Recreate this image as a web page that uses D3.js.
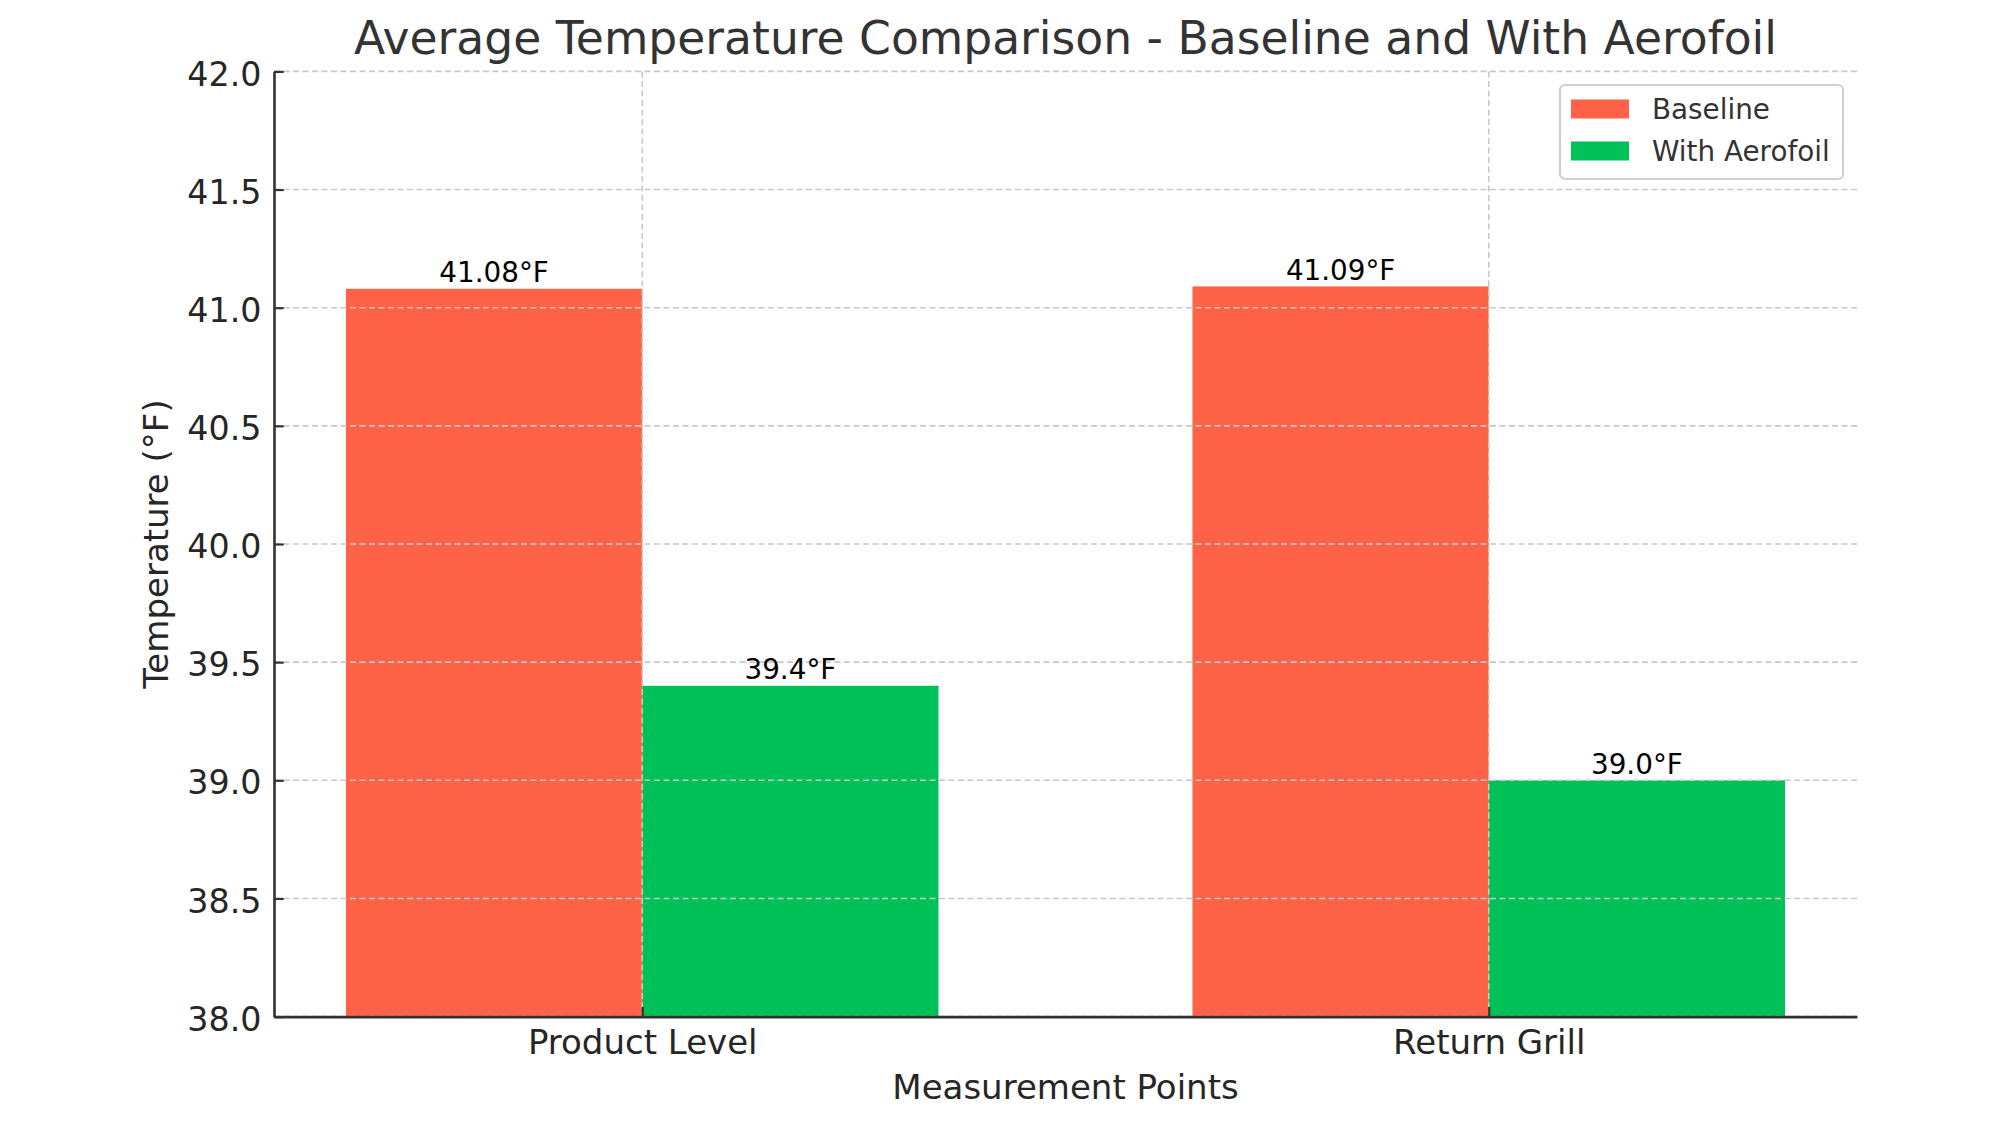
<!DOCTYPE html>
<html>
<head>
<meta charset="utf-8">
<script src="https://cdn.jsdelivr.net/npm/d3@7"></script>
<style>
  html, body { margin: 0; padding: 0; background: #fff; }
  svg { display: block; font-family: "DejaVu Sans", sans-serif; }
  .grid line { stroke: #c8c8c8; stroke-width: 1.6; stroke-dasharray: 6 3.5; }
  text.tick-label { fill: #262626; font-size: 33.3px; font-family: "DejaVu Sans", sans-serif; }
</style>
</head>
<body>
<div id="chart"></div>
<script>
const categories = ["Product Level", "Return Grill"];
const seriesNames = ["Baseline", "With Aerofoil"];
const baselineValues = [41.08, 41.09];
const aerofoilValues = [39.4, 39.0];
const valueLabels = [["41.08°F", "41.09°F"], ["39.4°F", "39.0°F"]];
const yTicks = [38.0, 38.5, 39.0, 39.5, 40.0, 40.5, 41.0, 41.5, 42.0];
const seriesColors = ["#ff6347", "#00c158"];

const width = 2000;
const height = 1125;
const margin = { top: 71.4, right: 143, bottom: 108.4, left: 274 };
const barWidth = 0.35;

const svg = d3.select("#chart").append("svg")
    .attr("width", width)
    .attr("height", height);

const x = d3.scaleLinear()
    .domain([-0.435, categories.length - 1 + 0.435])
    .range([margin.left, width - margin.right]);

const y = d3.scaleLinear()
    .domain([38, 42])
    .range([height - margin.bottom, margin.top]);

const series = [baselineValues, aerofoilValues];

// bars
series.forEach((vals, s) => {
    const offset = s === 0 ? -barWidth : 0;
    svg.append("g").selectAll("rect")
        .data(vals)
        .enter()
        .append("rect")
        .attr("x", (d, i) => x(i + offset))
        .attr("width", x(barWidth) - x(0))
        .attr("y", d => y(d))
        .attr("height", d => y(38) - y(d))
        .attr("fill", seriesColors[s]);
});

// grid on top of bars
const grid = svg.append("g").attr("class", "grid");
grid.selectAll("line.h")
    .data(yTicks)
    .enter()
    .append("line")
    .attr("x1", margin.left)
    .attr("x2", width - margin.right)
    .attr("y1", d => y(d))
    .attr("y2", d => y(d));
grid.selectAll("line.v")
    .data(categories.map((c, i) => i))
    .enter()
    .append("line")
    .attr("x1", d => x(d))
    .attr("x2", d => x(d))
    .attr("y1", margin.top)
    .attr("y2", height - margin.bottom);

// value labels
series.forEach((vals, s) => {
    const offset = s === 0 ? -barWidth / 2 : barWidth / 2;
    svg.append("g").selectAll("text")
        .data(vals)
        .enter()
        .append("text")
        .attr("x", (d, i) => x(i + offset))
        .attr("y", d => y(d) - 6.6)
        .attr("text-anchor", "middle")
        .attr("font-size", 27.8)
        .attr("fill", "#000")
        .text((d, i) => valueLabels[s][i]);
});

// axes
const yAxis = d3.axisLeft(y)
    .tickValues(yTicks)
    .tickFormat(d3.format(".1f"))
    .tickSizeInner(-9.7)
    .tickSizeOuter(0)
    .tickPadding(12.5);

const yg = svg.append("g")
    .attr("transform", `translate(${margin.left},0)`)
    .call(yAxis);

const xAxis = d3.axisBottom(x)
    .tickValues(categories.map((c, i) => i))
    .tickFormat(i => categories[i])
    .tickSizeInner(-9.7)
    .tickSizeOuter(0)
    .tickPadding(13);

const xg = svg.append("g")
    .attr("transform", `translate(0,${height - margin.bottom})`)
    .call(xAxis);

[yg, xg].forEach(g => {
    g.attr("font-family", null).attr("font-size", null);
    g.select(".domain").attr("stroke", "#333").attr("stroke-width", 2.6);
    g.selectAll(".tick line").attr("stroke", "#333").attr("stroke-width", 2.2);
    g.selectAll(".tick text")
        .attr("class", "tick-label")
        .attr("fill", null);
});
yg.selectAll(".tick text").attr("dy", "0.41em");
xg.selectAll(".tick text").attr("dy", "0.71em").style("font-size", "34px");

// titles
svg.append("text")
    .attr("x", (margin.left + width - margin.right) / 2)
    .attr("y", 54)
    .attr("text-anchor", "middle")
    .attr("font-size", 45.6)
    .attr("fill", "#333")
    .text("Average Temperature Comparison - Baseline and With Aerofoil");

svg.append("text")
    .attr("x", (margin.left + width - margin.right) / 2)
    .attr("y", 1099)
    .attr("text-anchor", "middle")
    .attr("font-size", 34)
    .attr("fill", "#262626")
    .text("Measurement Points");

svg.append("text")
    .attr("transform", `translate(168,${(margin.top + height - margin.bottom) / 2}) rotate(-90)`)
    .attr("text-anchor", "middle")
    .attr("font-size", 34)
    .attr("fill", "#262626")
    .text("Temperature (°F)");

// legend
const legend = svg.append("g").attr("transform", "translate(1560,85)");
legend.append("rect")
    .attr("width", 283)
    .attr("height", 94)
    .attr("rx", 5)
    .attr("fill", "rgba(255,255,255,0.85)")
    .attr("stroke", "#d0d0d0")
    .attr("stroke-width", 2.2);

seriesNames.forEach((name, i) => {
    const row = legend.append("g").attr("transform", `translate(0,${24 + i * 42})`);
    row.append("rect")
        .attr("x", 11)
        .attr("y", -9.5)
        .attr("width", 58)
        .attr("height", 19)
        .attr("fill", seriesColors[i]);
    row.append("text")
        .attr("x", 92)
        .attr("y", 0)
        .attr("dy", "0.36em")
        .attr("font-size", 27.8)
        .attr("fill", "#333")
        .text(name);
});
</script>
</body>
</html>
